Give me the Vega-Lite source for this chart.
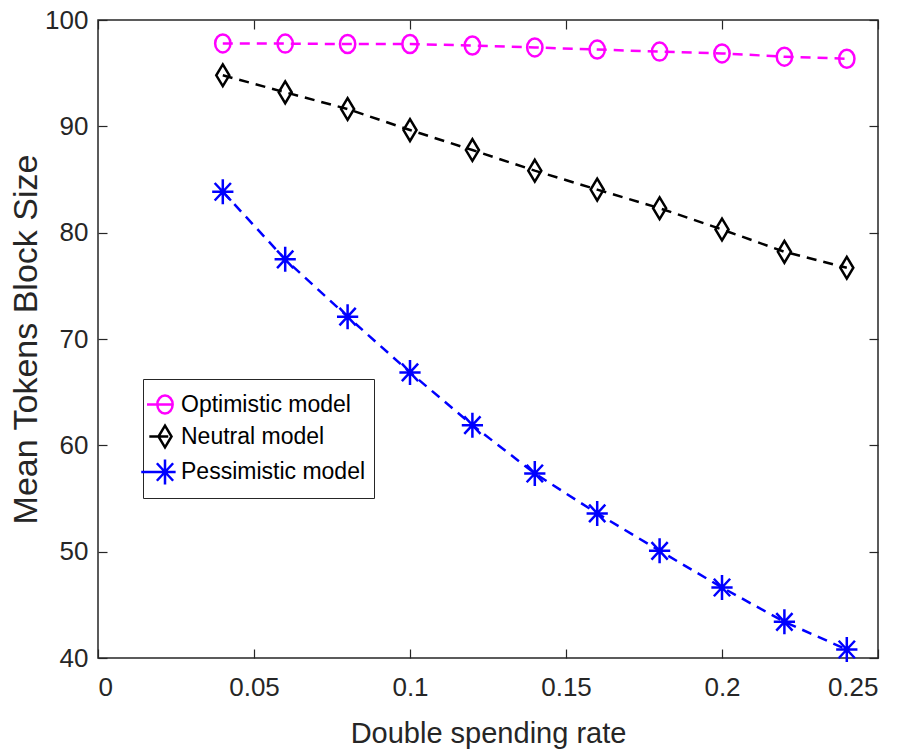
{
  "$schema": "https://vega.github.io/schema/vega-lite/v6.json",
  "width": 780,
  "height": 638,
  "autosize": {"type": "none"},
  "padding": {"left": 98, "top": 20, "right": 25, "bottom": 97},
  "background": "white",
  "config": {
    "view": {"stroke": "#262626", "strokeWidth": 1.5},
    "axis": {
      "domain": false,
      "grid": false,
      "tickColor": "#262626",
      "tickSize": -9,
      "tickWidth": 1.2,
      "labelFont": "Liberation Sans",
      "labelFontSize": 26,
      "labelColor": "#262626",
      "titleColor": "#262626",
      "titleFontWeight": "normal"
    },
    "legend": {
      "orient": "none",
      "legendX": 45,
      "legendY": 359,
      "fillColor": "white",
      "strokeColor": "#262626",
      "padding": 8,
      "labelFont": "Liberation Sans",
      "labelFontSize": 23,
      "labelColor": "black",
      "labelLimit": 400,
      "rowPadding": 1,
      "labelOffset": 2,
      "titleFontSize": 6,
      "titlePadding": 0,
      "symbolStrokeWidth": 2.5,
      "symbolFillColor": "transparent",
      "symbolOpacity": 1
    }
  },
  "data": {
    "values": [
      {"x": 0.04, "y": 97.8, "series": "Optimistic model"},
      {"x": 0.06, "y": 97.78, "series": "Optimistic model"},
      {"x": 0.08, "y": 97.74, "series": "Optimistic model"},
      {"x": 0.10, "y": 97.74, "series": "Optimistic model"},
      {"x": 0.12, "y": 97.6, "series": "Optimistic model"},
      {"x": 0.14, "y": 97.42, "series": "Optimistic model"},
      {"x": 0.16, "y": 97.22, "series": "Optimistic model"},
      {"x": 0.18, "y": 97.03, "series": "Optimistic model"},
      {"x": 0.20, "y": 96.86, "series": "Optimistic model"},
      {"x": 0.22, "y": 96.55, "series": "Optimistic model"},
      {"x": 0.24, "y": 96.36, "series": "Optimistic model"},
      {"x": 0.04, "y": 94.8, "series": "Neutral model"},
      {"x": 0.06, "y": 93.2, "series": "Neutral model"},
      {"x": 0.08, "y": 91.63, "series": "Neutral model"},
      {"x": 0.10, "y": 89.65, "series": "Neutral model"},
      {"x": 0.12, "y": 87.77, "series": "Neutral model"},
      {"x": 0.14, "y": 85.83, "series": "Neutral model"},
      {"x": 0.16, "y": 84.05, "series": "Neutral model"},
      {"x": 0.18, "y": 82.3, "series": "Neutral model"},
      {"x": 0.20, "y": 80.3, "series": "Neutral model"},
      {"x": 0.22, "y": 78.2, "series": "Neutral model"},
      {"x": 0.24, "y": 76.7, "series": "Neutral model"},
      {"x": 0.04, "y": 83.85, "series": "Pessimistic model"},
      {"x": 0.06, "y": 77.49, "series": "Pessimistic model"},
      {"x": 0.08, "y": 72.1, "series": "Pessimistic model"},
      {"x": 0.10, "y": 66.86, "series": "Pessimistic model"},
      {"x": 0.12, "y": 61.9, "series": "Pessimistic model"},
      {"x": 0.14, "y": 57.35, "series": "Pessimistic model"},
      {"x": 0.16, "y": 53.6, "series": "Pessimistic model"},
      {"x": 0.18, "y": 50.08, "series": "Pessimistic model"},
      {"x": 0.20, "y": 46.63, "series": "Pessimistic model"},
      {"x": 0.22, "y": 43.4, "series": "Pessimistic model"},
      {"x": 0.24, "y": 40.8, "series": "Pessimistic model"}
    ]
  },
  "layer": [
    {
      "mark": {"type": "line", "strokeDash": [10, 7], "strokeWidth": 2.5},
      "encoding": {
        "x": {
          "field": "x", "type": "quantitative",
          "scale": {"domain": [0, 0.25], "nice": false, "zero": false},
          "axis": {
            "orient": "bottom",
            "values": [0, 0.05, 0.1, 0.15, 0.2, 0.25],
            "format": "~g",
            "labelPadding": 25,
            "title": "Double spending rate",
            "titleFont": "Liberation Sans",
            "titleFontSize": 29,
            "titlePadding": 19
          }
        },
        "y": {
          "field": "y", "type": "quantitative",
          "scale": {"domain": [40, 100], "nice": false, "zero": false},
          "axis": {
            "orient": "left",
            "values": [40, 50, 60, 70, 80, 90, 100],
            "labelPadding": 19,
            "title": "Mean Tokens Block Size",
            "titleFont": "Liberation Sans",
            "titleFontSize": 34,
            "titlePadding": 1
          }
        },
        "color": {
          "field": "series", "type": "nominal",
          "scale": {
            "domain": ["Optimistic model", "Neutral model", "Pessimistic model"],
            "range": ["#FF00FF", "#000000", "#0000FF"]
          },
          "legend": null
        },
        "detail": {"field": "series"}
      }
    },
    {
      "mark": {"type": "point", "filled": false, "strokeWidth": 2.5, "opacity": 1},
      "encoding": {
        "x": {"field": "x", "type": "quantitative", "axis": null},
        "y": {"field": "y", "type": "quantitative", "axis": null},
        "color": {
          "field": "series", "type": "nominal",
          "scale": {
            "domain": ["Optimistic model", "Neutral model", "Pessimistic model"],
            "range": ["#FF00FF", "#000000", "#0000FF"]
          },
          "legend": null
        },
        "shape": {
          "field": "series", "type": "nominal",
          "scale": {
            "domain": ["Optimistic model", "Neutral model", "Pessimistic model"],
            "range": [
              "M-0.85,0A0.85,1,0,1,0,0.85,0A0.85,1,0,1,0,-0.85,0Z",
              "M0,-1L0.6,0L0,1L-0.6,0Z",
              "M0,-1L0,1M-0.85,0L0.85,0M-0.65,-0.7L0.65,0.7M-0.65,0.7L0.65,-0.7"
            ]
          },
          "legend": null
        },
        "size": {
          "field": "series", "type": "nominal",
          "scale": {
            "domain": ["Optimistic model", "Neutral model", "Pessimistic model"],
            "range": [324, 625, 361]
          },
          "legend": null
        }
      }
    },
    {
      "transform": [{"filter": "false"}],
      "mark": {"type": "point", "filled": false, "strokeWidth": 2.5},
      "encoding": {
        "color": {
          "field": "series", "type": "nominal",
          "scale": {
            "domain": ["Optimistic model", "Neutral model", "Pessimistic model"],
            "range": ["#FF00FF", "#000000", "#0000FF"]
          },
          "legend": {"title": " "}
        },
        "shape": {
          "field": "series", "type": "nominal",
          "scale": {
            "domain": ["Optimistic model", "Neutral model", "Pessimistic model"],
            "range": [
              "M-2,0L0.85,0M-0.85,0A0.85,1,0,1,0,0.85,0A0.85,1,0,1,0,-0.85,0Z",
              "M-1.44,0L0.3,0M0,-1L0.6,0L0,1L-0.6,0Z",
              "M-1.9,0L0.85,0M0,-1L0,1M-0.65,-0.7L0.65,0.7M-0.65,0.7L0.65,-0.7"
            ]
          },
          "legend": {"title": " "}
        },
        "size": {
          "field": "series", "type": "nominal",
          "scale": {
            "domain": ["Optimistic model", "Neutral model", "Pessimistic model"],
            "range": [324, 625, 361]
          },
          "legend": {"title": " "}
        }
      }
    },
    {
      "mark": {"type": "point", "opacity": 0},
      "encoding": {
        "x": {
          "field": "x", "type": "quantitative",
          "axis": {"orient": "top", "values": [0, 0.05, 0.1, 0.15, 0.2, 0.25], "labels": false, "title": null}
        },
        "y": {
          "field": "y", "type": "quantitative",
          "axis": {"orient": "right", "values": [40, 50, 60, 70, 80, 90, 100], "labels": false, "title": null}
        }
      }
    }
  ],
  "resolve": {
    "axis": {"x": "independent", "y": "independent"},
    "scale": {"shape": "independent", "color": "independent", "size": "independent"}
  }
}
